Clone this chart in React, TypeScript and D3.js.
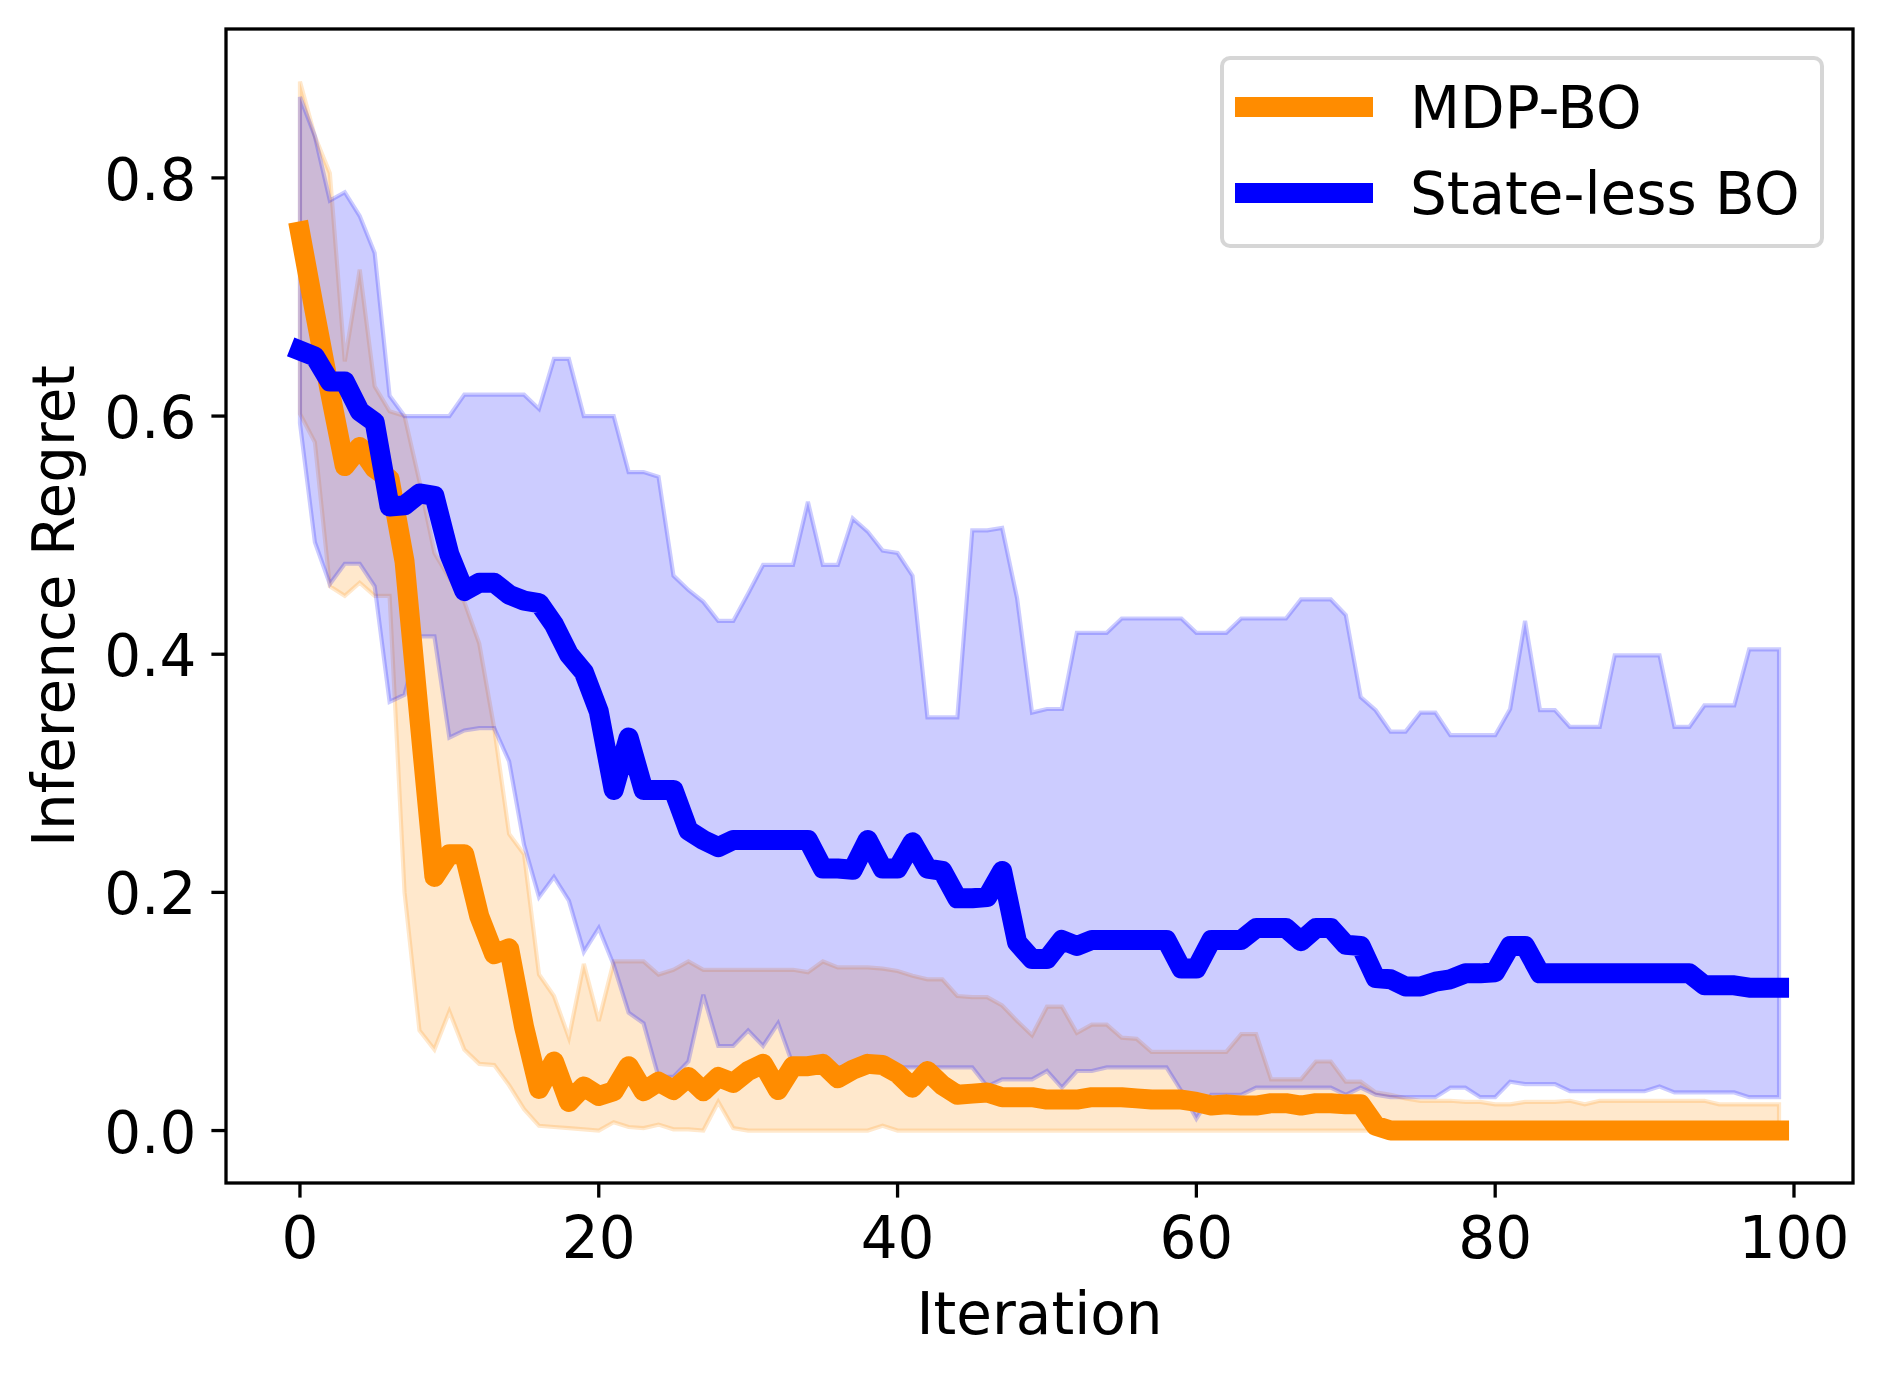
import React from "react";
import * as d3 from "d3";

// ---- data ----
const iterations: number[] = Array.from({ length: 100 }, (_, i) => i);

const mdpMean: number[] = [
  0.755, 0.687, 0.621, 0.558, 0.574, 0.556, 0.547, 0.478, 0.345, 0.213,
  0.232, 0.232, 0.18, 0.148, 0.153, 0.087, 0.035, 0.058, 0.024, 0.037,
  0.029, 0.033, 0.054, 0.033, 0.041, 0.034, 0.045, 0.033, 0.045, 0.04,
  0.05, 0.056, 0.034, 0.054, 0.054, 0.056, 0.044, 0.051, 0.056, 0.055,
  0.048, 0.036, 0.05, 0.038, 0.03, 0.031, 0.032, 0.028, 0.028, 0.028,
  0.026, 0.026, 0.026, 0.028, 0.028, 0.028, 0.027, 0.026, 0.026, 0.026,
  0.024, 0.021, 0.022, 0.021, 0.021, 0.023, 0.023, 0.021, 0.023, 0.023,
  0.022, 0.022, 0.004, 0, 0, 0, 0, 0, 0, 0,
  0, 0, 0, 0, 0, 0, 0, 0, 0, 0,
  0, 0, 0, 0, 0, 0, 0, 0, 0, 0,
];

const mdpUpper: number[] = [
  0.881, 0.835, 0.804, 0.646, 0.723, 0.625, 0.604, 0.6, 0.545, 0.485,
  0.464, 0.444, 0.409, 0.338, 0.249, 0.232, 0.131, 0.113, 0.078, 0.14,
  0.092, 0.142, 0.142, 0.142, 0.131, 0.135, 0.142, 0.135, 0.135, 0.135,
  0.135, 0.135, 0.135, 0.135, 0.133, 0.142, 0.137, 0.137, 0.137, 0.136,
  0.134, 0.13, 0.127, 0.127, 0.113, 0.112, 0.112, 0.105, 0.092, 0.08,
  0.104, 0.104, 0.082, 0.089, 0.089, 0.078, 0.077, 0.066, 0.066, 0.066,
  0.066, 0.066, 0.066, 0.081, 0.081, 0.043, 0.043, 0.043, 0.058, 0.058,
  0.041, 0.041, 0.032, 0.03, 0.027, 0.025, 0.025, 0.025, 0.024, 0.024,
  0.022, 0.022, 0.024, 0.024, 0.024, 0.025, 0.022, 0.025, 0.025, 0.025,
  0.025, 0.025, 0.025, 0.025, 0.025, 0.022, 0.022, 0.022, 0.022, 0.022,
];

const mdpLower: number[] = [
  0.602, 0.578, 0.457, 0.449, 0.46, 0.449, 0.449, 0.2, 0.084, 0.068,
  0.1, 0.068, 0.056, 0.055, 0.038, 0.018, 0.004, 0.003, 0.002, 0.001,
  0.0, 0.007, 0.003, 0.002, 0.005, 0.001, 0.001, 0.0, 0.024, 0.002,
  0.0, 0.0, 0.0, 0.0, 0.0, 0.0, 0.0, 0.0, 0.0, 0.004,
  0, 0, 0, 0, 0, 0, 0, 0, 0, 0,
  0, 0, 0, 0, 0, 0, 0, 0, 0, 0,
  0, 0, 0, 0, 0, 0, 0, 0, 0, 0,
  0, 0, 0, 0, 0, 0, 0, 0, 0, 0,
  0, 0, 0, 0, 0, 0, 0, 0, 0, 0,
  0, 0, 0, 0, 0, 0, 0, 0, 0, 0,
];

const slMean: number[] = [
  0.655, 0.65, 0.629, 0.629, 0.604, 0.595, 0.524, 0.525, 0.535, 0.533,
  0.484, 0.453, 0.46, 0.46, 0.45, 0.445, 0.443, 0.425, 0.4, 0.385,
  0.352, 0.286, 0.33, 0.286, 0.286, 0.286, 0.252, 0.244, 0.238, 0.244,
  0.244, 0.244, 0.244, 0.244, 0.244, 0.22, 0.22, 0.219, 0.244, 0.22,
  0.22, 0.242, 0.22, 0.218, 0.195, 0.195, 0.196, 0.218, 0.158, 0.144,
  0.144, 0.16, 0.155, 0.16, 0.16, 0.16, 0.16, 0.16, 0.16, 0.136,
  0.136, 0.16, 0.16, 0.16, 0.17, 0.17, 0.17, 0.159, 0.17, 0.17,
  0.156, 0.155, 0.128, 0.127, 0.121, 0.121, 0.125, 0.127, 0.132, 0.132,
  0.133, 0.155, 0.155, 0.132, 0.132, 0.132, 0.132, 0.132, 0.132, 0.132,
  0.132, 0.132, 0.132, 0.132, 0.122, 0.122, 0.122, 0.12, 0.12, 0.12,
];

const slUpper: number[] = [
  0.868, 0.835, 0.781, 0.788, 0.768, 0.737, 0.617, 0.6, 0.6, 0.6,
  0.6, 0.618, 0.618, 0.618, 0.618, 0.618, 0.606, 0.648, 0.648, 0.6,
  0.6, 0.6, 0.553, 0.553, 0.549, 0.466, 0.454, 0.444, 0.428, 0.428,
  0.451, 0.475, 0.475, 0.475, 0.528, 0.475, 0.475, 0.514, 0.503, 0.487,
  0.485, 0.466, 0.347, 0.347, 0.347, 0.504, 0.504, 0.506, 0.447, 0.351,
  0.354, 0.354, 0.418, 0.418, 0.418, 0.43, 0.43, 0.43, 0.43, 0.43,
  0.418, 0.418, 0.418, 0.43, 0.43, 0.43, 0.43, 0.446, 0.446, 0.446,
  0.433, 0.364, 0.353, 0.335, 0.335, 0.351, 0.351, 0.332, 0.332, 0.332,
  0.332, 0.354, 0.428, 0.353, 0.353, 0.339, 0.339, 0.339, 0.399, 0.399,
  0.399, 0.399, 0.339, 0.339, 0.357, 0.357, 0.357, 0.404, 0.404, 0.404,
];

const slLower: number[] = [
  0.594, 0.494, 0.459, 0.476, 0.476, 0.457, 0.36, 0.366, 0.415, 0.415,
  0.33, 0.336, 0.338, 0.338, 0.31, 0.24, 0.196, 0.213, 0.193, 0.15,
  0.17, 0.139, 0.099, 0.09, 0.045, 0.045, 0.058, 0.114, 0.071, 0.071,
  0.084, 0.071, 0.09, 0.055, 0.053, 0.053, 0.053, 0.053, 0.053, 0.053,
  0.053, 0.053, 0.053, 0.053, 0.053, 0.053, 0.037, 0.043, 0.043, 0.043,
  0.05, 0.036, 0.05, 0.05, 0.053, 0.053, 0.053, 0.053, 0.053, 0.033,
  0.01, 0.03, 0.03, 0.03, 0.036, 0.036, 0.036, 0.036, 0.036, 0.036,
  0.03, 0.036, 0.03, 0.028, 0.028, 0.028, 0.028, 0.036, 0.036, 0.028,
  0.028, 0.041, 0.039, 0.039, 0.039, 0.033, 0.033, 0.033, 0.033, 0.033,
  0.033, 0.037, 0.032, 0.032, 0.032, 0.032, 0.032, 0.028, 0.028, 0.028,
];

const xTicks: number[] = [0, 20, 40, 60, 80, 100];
const yTicks: number[] = [0.0, 0.2, 0.4, 0.6, 0.8];

const seriesNames: string[] = ["MDP-BO", "State-less BO"];
const seriesColors: string[] = ["#ff8c00", "#0000ff"];

const xLabel = "Iteration";
const yLabel = "Inference Regret";

// ---- layout ----
const W = 1883;
const H = 1374;
const M = { left: 226, right: 1853, top: 29, bottom: 1183 };
const FONT = "'DejaVu Sans', sans-serif";
const FS = 58;
const LW = 20;

export default function App() {
  const xMin = d3.min(iterations)!;
  const xMax = d3.max(iterations)!;
  const xPad = (xMax - xMin) * 0.05;
  const x = d3
    .scaleLinear()
    .domain([xMin - xPad, xMax + xPad])
    .range([M.left, M.right]);

  const allLow = d3.min([...mdpLower, ...slLower, ...mdpMean, ...slMean])!;
  const allHigh = d3.max([...mdpUpper, ...slUpper, ...mdpMean, ...slMean])!;
  const yPad = (allHigh - allLow) * 0.05;
  const y = d3
    .scaleLinear()
    .domain([allLow - yPad, allHigh + yPad])
    .range([M.bottom, M.top]);

  const bands = [
    { lo: mdpLower, hi: mdpUpper, color: seriesColors[0] },
    { lo: slLower, hi: slUpper, color: seriesColors[1] },
  ];
  const means = [
    { v: mdpMean, color: seriesColors[0] },
    { v: slMean, color: seriesColors[1] },
  ];

  const idx = iterations.map((_, i) => i);

  const area = (lo: number[], hi: number[]) =>
    d3
      .area<number>()
      .x((i) => x(iterations[i]))
      .y0((i) => y(lo[i]))
      .y1((i) => y(hi[i]))(idx) || "";

  const line = (v: number[]) =>
    d3
      .line<number>()
      .x((i) => x(iterations[i]))
      .y((i) => y(v[i]))(idx) || "";

  const tickLen = 14.6;
  const tickW = 3.3;

  // legend geometry
  const lg = { x0: 1222, y0: 58, x1: 1822, y1: 246 };
  const legendRows = [107, 193];

  return (
    <div style={{ position: "absolute", left: 0, top: 0, width: W, height: H, background: "#fff" }}>
      <svg width={W} height={H} viewBox={`0 0 ${W} ${H}`} style={{ display: "block" }}>
        <rect x={0} y={0} width={W} height={H} fill="#ffffff" />
        <defs>
          <clipPath id="plotclip">
            <rect x={M.left} y={M.top} width={M.right - M.left} height={M.bottom - M.top} />
          </clipPath>
        </defs>
        <g clipPath="url(#plotclip)">
          {bands.map((b, k) => (
            <path
              key={"band" + k}
              d={area(b.lo, b.hi)}
              fill={b.color}
              fillOpacity={0.2}
              stroke={b.color}
              strokeOpacity={0.2}
              strokeWidth={4.2}
              strokeLinejoin="miter"
            />
          ))}
          {means.map((m, k) => (
            <path
              key={"mean" + k}
              d={line(m.v)}
              fill="none"
              stroke={m.color}
              strokeWidth={LW}
              strokeLinecap="square"
              strokeLinejoin="round"
            />
          ))}
        </g>

        {/* axes frame */}
        <rect
          x={M.left}
          y={M.top}
          width={M.right - M.left}
          height={M.bottom - M.top}
          fill="none"
          stroke="#000"
          strokeWidth={tickW}
        />

        {/* x ticks */}
        {xTicks.map((t) => (
          <g key={"xt" + t}>
            <line x1={x(t)} x2={x(t)} y1={M.bottom} y2={M.bottom + tickLen} stroke="#000" strokeWidth={tickW} />
            <text
              x={x(t)}
              y={M.bottom + 75}
              textAnchor="middle"
              fontFamily={FONT}
              fontSize={FS}
              fill="#000"
            >
              {d3.format("d")(t)}
            </text>
          </g>
        ))}

        {/* y ticks */}
        {yTicks.map((t) => (
          <g key={"yt" + t}>
            <line x1={M.left - tickLen} x2={M.left} y1={y(t)} y2={y(t)} stroke="#000" strokeWidth={tickW} />
            <text
              x={M.left - tickLen - 15}
              y={y(t) + 22}
              textAnchor="end"
              fontFamily={FONT}
              fontSize={FS}
              fill="#000"
            >
              {d3.format(".1f")(t)}
            </text>
          </g>
        ))}

        {/* axis labels */}
        <text
          x={(M.left + M.right) / 2}
          y={1334}
          textAnchor="middle"
          fontFamily={FONT}
          fontSize={FS}
          fill="#000"
        >
          {xLabel}
        </text>
        <text
          transform={`translate(${74}, ${(M.top + M.bottom) / 2}) rotate(-90)`}
          textAnchor="middle"
          fontFamily={FONT}
          fontSize={FS}
          fill="#000"
        >
          {yLabel}
        </text>

        {/* legend */}
        <rect
          x={lg.x0}
          y={lg.y0}
          width={lg.x1 - lg.x0}
          height={lg.y1 - lg.y0}
          rx={8}
          ry={8}
          fill="#ffffff"
          fillOpacity={0.8}
          stroke="#cccccc"
          strokeOpacity={0.8}
          strokeWidth={4}
        />
        {seriesNames.map((name, k) => (
          <g key={"lg" + k}>
            <line
              x1={1245}
              x2={1363}
              y1={legendRows[k]}
              y2={legendRows[k]}
              stroke={seriesColors[k]}
              strokeWidth={LW}
              strokeLinecap="square"
            />
            <text
              x={1410}
              y={legendRows[k] + 21}
              fontFamily={FONT}
              fontSize={FS}
              fill="#000"
            >
              {name}
            </text>
          </g>
        ))}
      </svg>
    </div>
  );
}
